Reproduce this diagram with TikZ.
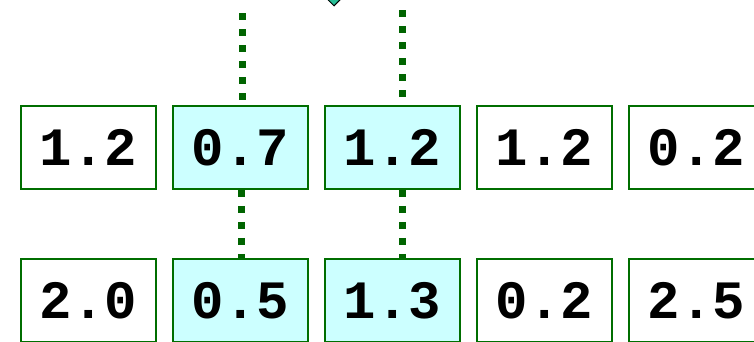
\documentclass[tikz,border=0pt]{standalone}
\usepackage{fontspec}
\setmonofont{Liberation Mono}
\usepackage{tikz}
\usetikzlibrary{shapes.geometric}
\definecolor{linkgreen}{RGB}{0,100,0}
\definecolor{boxgreen}{RGB}{0,110,0}
\definecolor{cellcyan}{RGB}{204,255,255}
\definecolor{tealmark}{RGB}{40,190,150}

\begin{document}
\begin{tikzpicture}[x=1pt,y=-1pt,
    cell/.style={draw=boxgreen,line width=1.5pt,fill=white,minimum width=135pt,minimum height=83pt,inner sep=0pt,font=\fontsize{54}{60}\selectfont\ttfamily\bfseries},
    hit/.style={cell,fill=cellcyan},
    link/.style={draw=linkgreen,line width=7pt,dash pattern=on 7pt off 9pt}]
%\tikzstyle{cell}=[rectangle,draw=green!40!black,thick]
\useasboundingbox (0,0) rectangle (754,341);
\clip (0,0) rectangle (754,341);
\node[diamond,draw,line width=1pt,fill=tealmark,minimum size=40pt,inner sep=0pt] (mark) at (334,-14) {};

\begin{scope}
    \node[cell] (t1) at (88.5,147.5) {1.2};
    \node[hit] (t2) at (240.5,147.5) {0.7};
    \node[hit] (t3) at (392.5,147.5) {1.2};
    \node[cell] (t4) at (544.5,147.5) {1.2};
    \node[cell] (t5) at (696.5,147.5) {0.2};
\end{scope}

\begin{scope}
    \node[cell] (b1) at (88.5,300.5) {2.0};
    \node[hit] (b2) at (240.5,300.5) {0.5};
    \node[hit] (b3) at (392.5,300.5) {1.3};
    \node[cell] (b4) at (544.5,300.5) {0.2};
    \node[cell] (b5) at (696.5,300.5) {2.5};
\end{scope}

\coordinate (u2) at (242,13);
\coordinate (u3) at (402,10);
\path [link] (u2) edge ([xshift=1.5pt,yshift=5pt]t2.north);
\path [link] (u3) edge ([xshift=9.5pt,yshift=6pt]t3.north);
\path [link] ([xshift=1pt]t2.south) edge ([xshift=1pt]b2.north);
\path [link] ([xshift=9.5pt]t3.south) edge ([xshift=9.5pt]b3.north);
\end{tikzpicture}
\end{document}
